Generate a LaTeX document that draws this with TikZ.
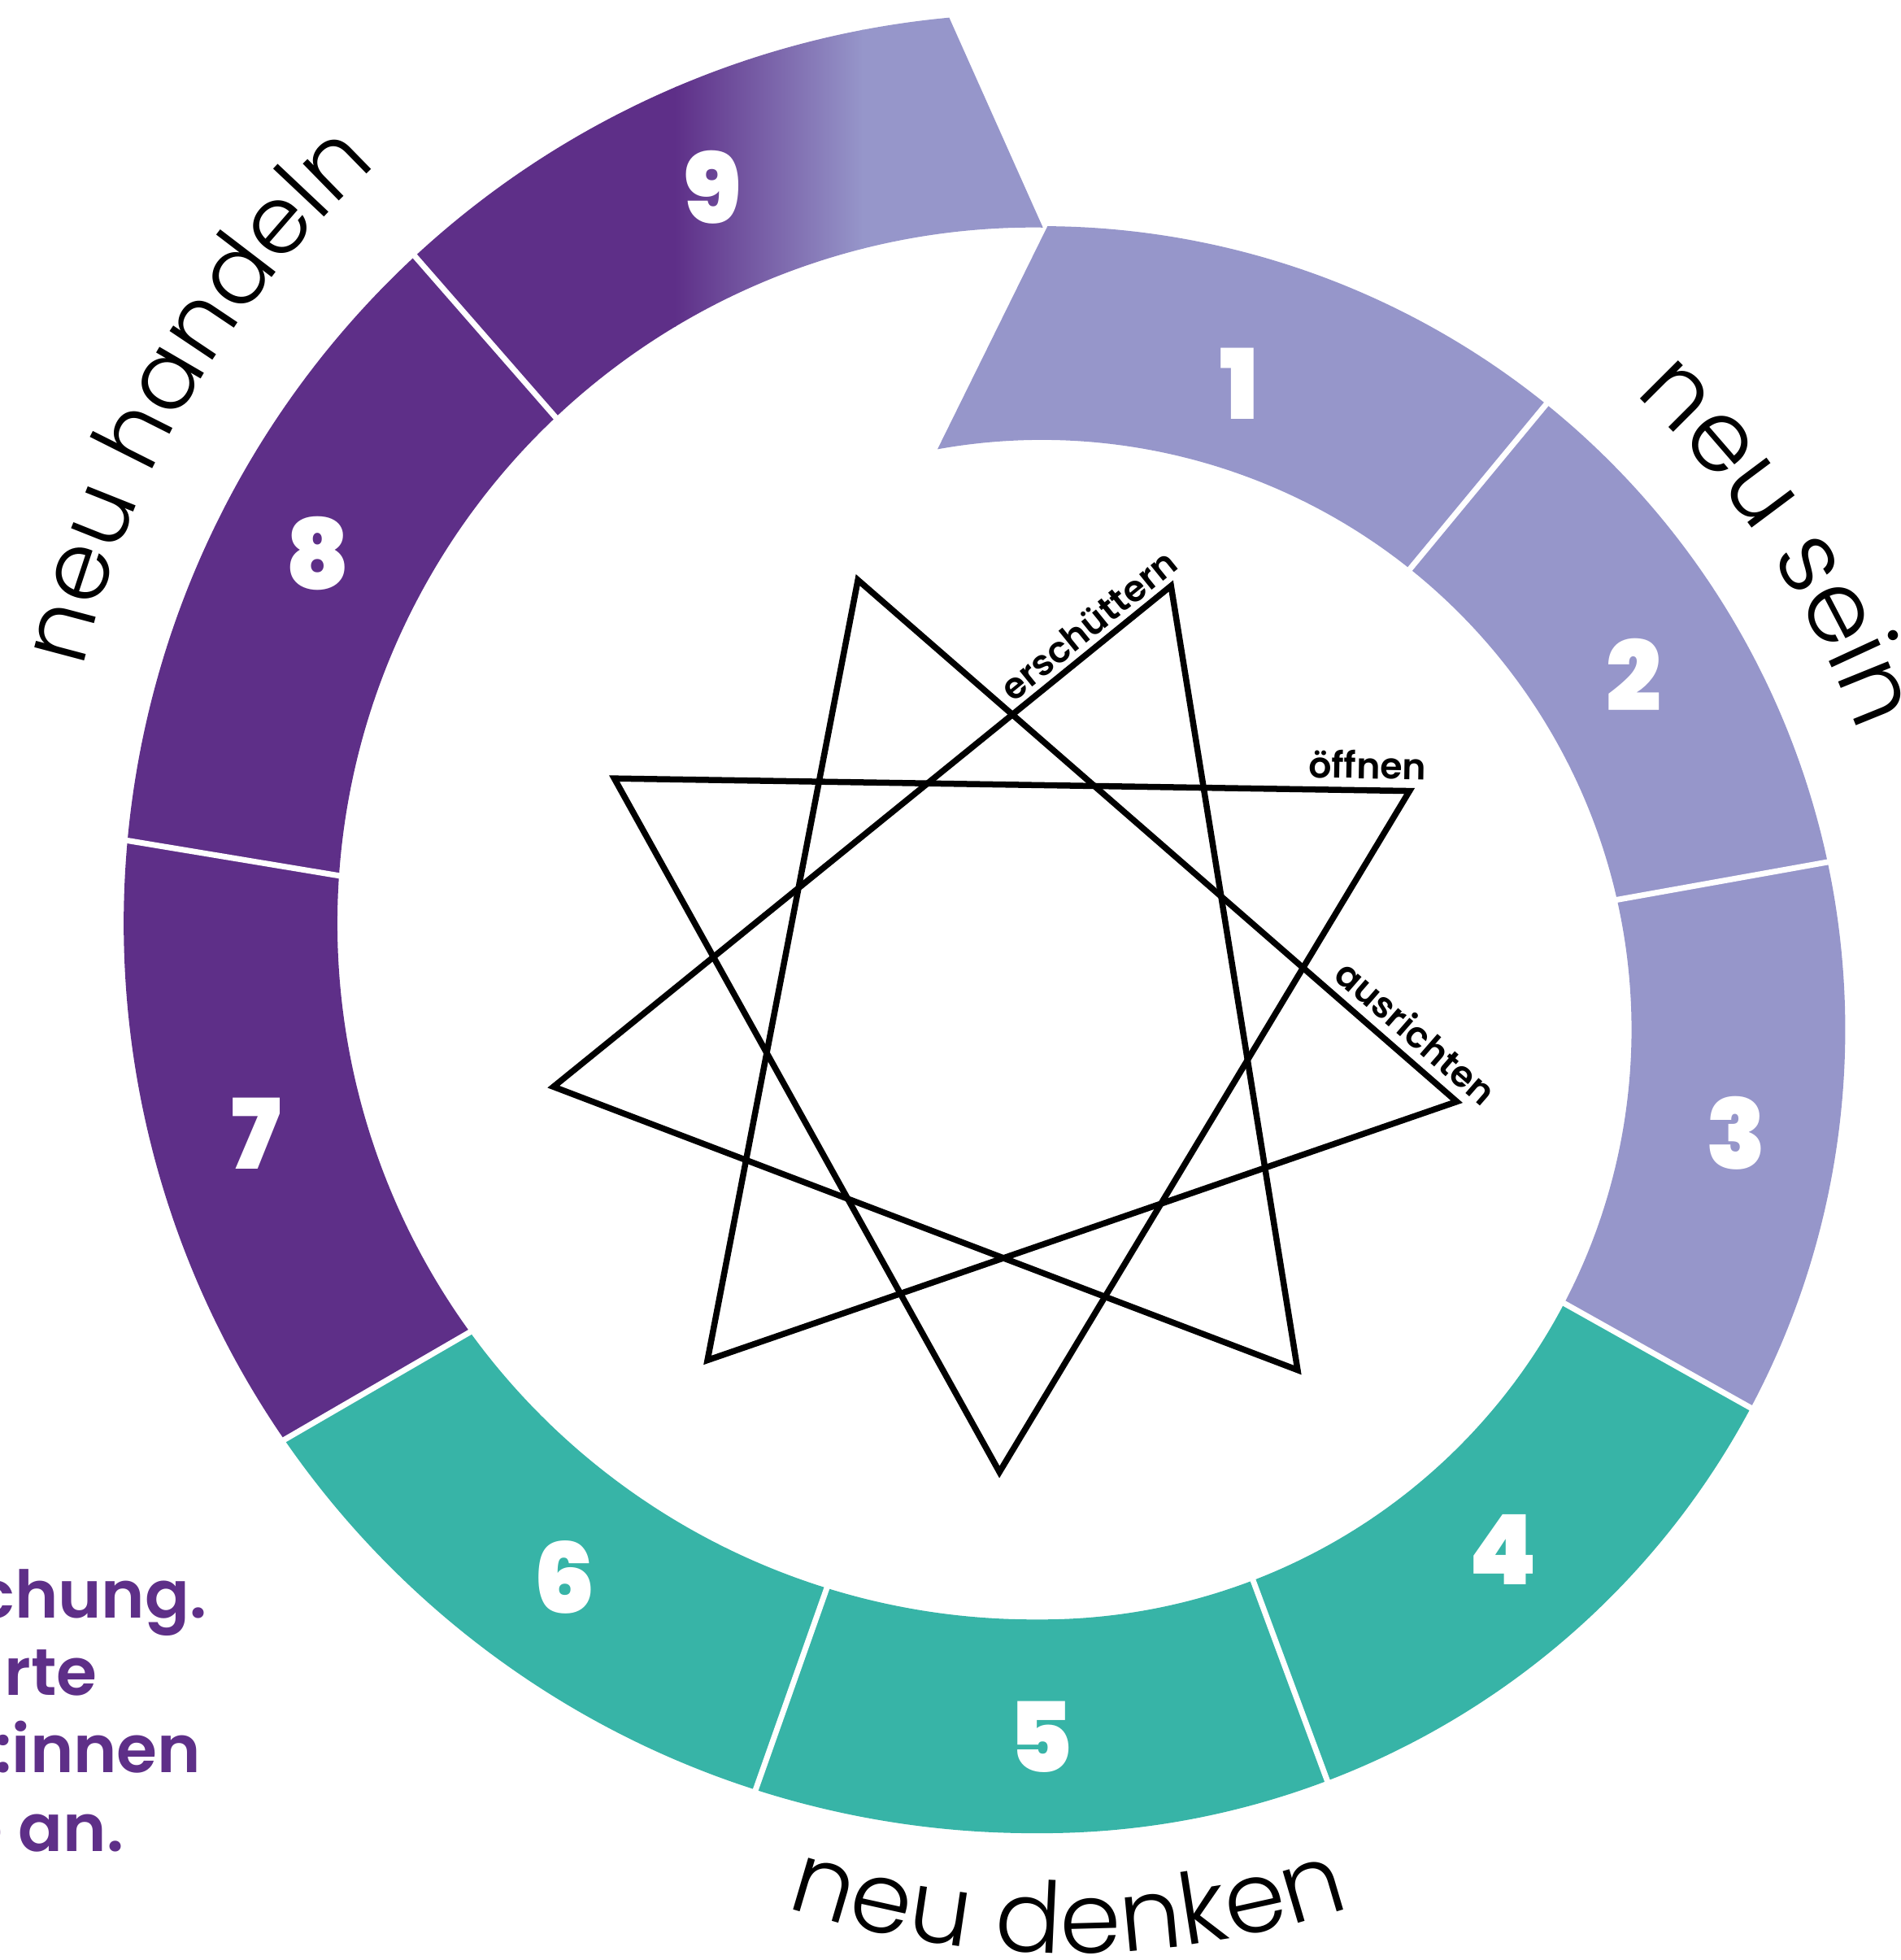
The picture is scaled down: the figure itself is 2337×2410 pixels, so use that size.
\documentclass[tikz,border=0pt]{standalone}
\usepackage{fontspec}
\usetikzlibrary{calc,decorations.text}
\definecolor{lav}{HTML}{9696CA}
\definecolor{dp}{HTML}{5E2F88}
\definecolor{tealc}{HTML}{37B4A7}
\newfontfamily\numfont{Poppins Black}
\newfontfamily\lightfont{Poppins Light}
\newfontfamily\labfont{Poppins SemiBold}
\begin{document}
\begin{tikzpicture}[x=0.01cm,y=0.01cm,
  num/.style={font=\numfont\fontsize{34}{34}\selectfont,text=white,inner sep=0pt},
  lbl/.style={font=\labfont\fontsize{12.6}{12.6}\selectfont,inner sep=0pt},
  ptxt/.style={font=\labfont\fontsize{23}{23}\selectfont,text=dp,inner sep=0pt,anchor=base east},
  sep/.style={draw=white,line width=0.07cm},
  starline/.style={draw=black,line width=0.075cm,line join=miter}]
\useasboundingbox (0,0) rectangle (2337,2410);
\coordinate (C1) at (1281.4,1143.9);
\coordinate (C2) at (1270.7,1274.5);
% segments 1-4 (right half, centre C1)
\fill[lav] ($(C1)+(100.2:725.2)$) arc[start angle=100.2,end angle=51.4,radius=725.2] -- ($(C1)+(51.1:988)$) arc[start angle=51.1,end angle=89.6,radius=988] -- cycle;
\fill[lav] ($(C1)+(51.4:725.2)$) arc[start angle=51.4,end angle=12.8,radius=725.2] -- ($(C1)+(12.0:988)$) arc[start angle=12.0,end angle=51.1,radius=988] -- cycle;
\fill[lav] ($(C1)+(12.8:725.2)$) arc[start angle=12.8,end angle=-27.6,radius=725.2] -- ($(C1)+(-28.1:988)$) arc[start angle=-28.1,end angle=12.0,radius=988] -- cycle;
\fill[tealc] ($(C1)+(-27.6:725.2)$) arc[start angle=-27.6,end angle=-69.0,radius=725.2] -- ($(C1)+(-69.2:988)$) arc[start angle=-69.2,end angle=-28.1,radius=988] -- cycle;
% segment 5 (crosses the joint of the two half circles)
\fill[tealc] ($(C1)+(-69.0:725.2)$) arc[start angle=-69.0,end angle=-90,radius=725.2] -- ($(C2)+(-90:855.8)$) arc[start angle=-90,end angle=-107.2,radius=855.8] -- ($(C2)+(-107.8:1118.6)$) arc[start angle=-107.8,end angle=-90,radius=1118.6] -- ($(C1)+(-90:988)$) arc[start angle=-90,end angle=-69.2,radius=988] -- cycle;
% segments 6-8 (left half, centre C2)
\fill[tealc] ($(C2)+(-107.2:855.8)$) arc[start angle=-107.2,end angle=-143.9,radius=855.8] -- ($(C2)+(-145.5:1118.6)$) arc[start angle=-145.5,end angle=-107.8,radius=1118.6] -- cycle;
\fill[dp] ($(C2)+(-143.9:855.8)$) arc[start angle=-143.9,end angle=-183.8,radius=855.8] -- ($(C2)+(-185.3:1118.6)$) arc[start angle=-185.3,end angle=-145.5,radius=1118.6] -- cycle;
\fill[dp] ($(C2)+(-183.8:855.8)$) arc[start angle=-183.8,end angle=-226.6,radius=855.8] -- ($(C2)+(-227.2:1118.6)$) arc[start angle=-227.2,end angle=-185.3,radius=1118.6] -- cycle;
% segment 9 with gradient
\begin{scope}
\clip ($(C2)+(-226.6:855.8)$) arc[start angle=-226.6,end angle=-270.8,radius=855.8] -- ($(C2)+(-264.7:1118.6)$) arc[start angle=-264.7,end angle=-227.2,radius=1118.6] -- cycle;
\fill[dp] (0,1500) rectangle (832,2420);
\shade[left color=dp,right color=lav] (830,1500) rectangle (1062,2420);
\fill[lav] (1060,1500) rectangle (1600,2420);
\end{scope}
% separators
\draw[sep] ($(C1)+(51.4:705)$) -- ($(C1)+(51.1:1008)$);
\draw[sep] ($(C1)+(12.8:705)$) -- ($(C1)+(12.0:1008)$);
\draw[sep] ($(C1)+(-27.6:705)$) -- ($(C1)+(-28.1:1008)$);
\draw[sep] ($(C1)+(-69.0:705)$) -- ($(C1)+(-69.2:1008)$);
\draw[sep] ($(C2)+(-107.2:835)$) -- ($(C2)+(-107.8:1138)$);
\draw[sep] ($(C2)+(-143.9:835)$) -- ($(C2)+(-145.5:1138)$);
\draw[sep] ($(C2)+(176.2:835)$) -- ($(C2)+(174.7:1138)$);
\draw[sep] ($(C2)+(133.4:835)$) -- ($(C2)+(132.8:1138)$);
% numbers
\node[num] (n1) at (1524.2,1938.3) {1};
\node[num] (n2) at (2009.7,1580.3) {2};
\node[num] (n3) at (2135.7,1016.4) {3};
\node[num] (n4) at (1848.4,504.7) {4};
\node[num] (n5) at (1279.9,274.3) {5};
\node[num] (n6) at (694.5,470.9) {6};
\node[num] (n7) at (315.0,1016.4) {7};
\node[num] (n8) at (390.3,1729.3) {8};
\node[num] (n9) at (875.8,2179.5) {9};
% star
\coordinate (P1) at (1055.1,1696.8);
\coordinate (P2) at (1440.2,1689.5);
\coordinate (P3) at (1733.5,1437.4);
\coordinate (P4) at (1791.6,1055.4);
\coordinate (P5) at (1595.9,725.4);
\coordinate (P6) at (1229.2,600.0);
\coordinate (P7) at (870.1,737.5);
\coordinate (P8) at (680.7,1073.7);
\coordinate (P9) at (755.5,1452.8);
\draw[starline] (P6) -- (P9) -- (P3) -- cycle;
\draw[starline] (P1) -- (P4) -- (P7) -- cycle;
\draw[starline] (P2) -- (P8) -- (P5) -- cycle;
\node[lbl,rotate=39] (l1) at (1338.3,1641.7) {erschüttern};
\node[lbl,rotate=-0.9] (l2) at (1682,1469.7) {öffnen};
\node[lbl,rotate=-41] (l3) at (1742,1141) {ausrichten};
% curved labels
\coordinate (H) at (1286.1,1312.9);
\coordinate (D) at (1313.7,1107.0);
\path[decorate,decoration={text along path,text align=center,text={|\lightfont\fontsize{34.5}{34.5}\selectfont|neu sein}}] ($(C1)+(63.5:1069)$) arc[start angle=63.5,end angle=3.5,radius=1069];
\path[decorate,decoration={text along path,text align=center,text={|\lightfont\fontsize{33}{33}\selectfont|neu handeln}}] ($(H)+(179.75:1215.4)$) arc[start angle=179.75,end angle=119.75,radius=1215.4];
\path[decorate,decoration={text along path,text align=center,text={|\lightfont\fontsize{34.5}{34.5}\selectfont|neu denken}}] ($(D)+(-120:1098.6)$) arc[start angle=-120,end angle=-60,radius=1098.6];
% paragraph fragment
\node[ptxt] (t1) at (255,420) {chung.};
\node[ptxt] (t2) at (120,325) {rte};
\node[ptxt] (t3) at (248,230) {:innen};
\node[ptxt] (t4) at (153,133) {e an.};
\end{tikzpicture}
\end{document}
